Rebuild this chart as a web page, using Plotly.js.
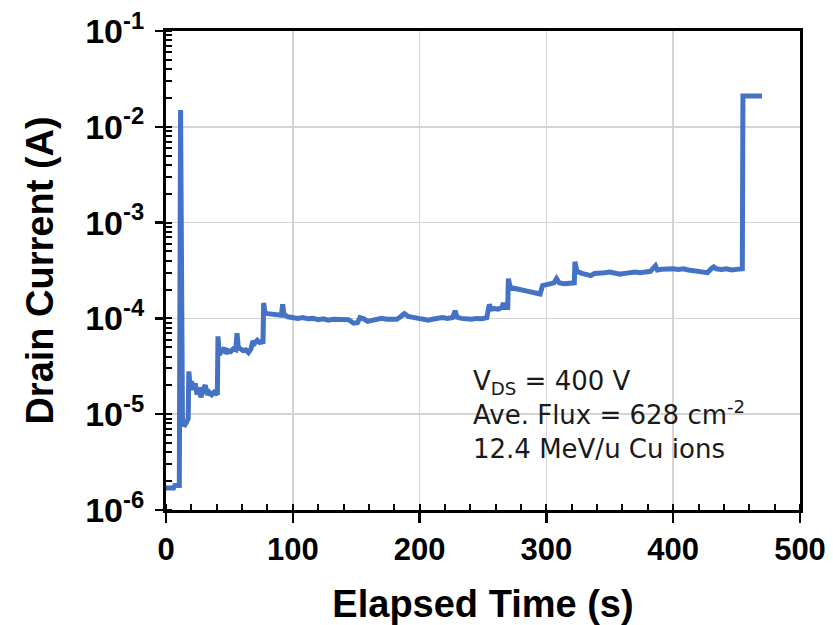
<!DOCTYPE html>
<html>
<head>
<meta charset="utf-8">
<script src="https://cdn.plot.ly/plotly-3.0.1.min.js"></script>
<style>
  html, body { margin: 0; padding: 0; background: #ffffff; }
  #chart { width: 833px; height: 625px; }
</style>
</head>
<body>
<div id="chart"></div>
<script>
// Elapsed time (s)
const timeS = [
  0, 3, 6, 7, 9, 10.5, 11.5, 12.5, 13, 14, 15, 16, 17.5, 18, 19, 20, 21.5, 23, 24.5, 26,
  27.5, 29, 31, 32.5, 34, 36, 38, 40.5, 41, 42, 44, 46, 47.5, 49, 51, 53, 55, 56, 57, 59,
  61, 63, 65, 67, 68.5, 70, 72, 74, 76.5, 77, 78, 80, 83, 86, 89, 91, 92, 93, 96, 100,
  104, 108, 112, 116, 120, 124, 128, 132, 136, 140, 144, 148, 151, 153, 156, 159, 162, 166, 170, 174,
  178, 182, 185, 188, 191, 195, 199, 203, 207, 210, 214, 218, 222, 226, 228, 229.5, 233, 237, 241, 245,
  249, 253, 255, 256.5, 259, 262, 265, 266, 267, 269.5, 270, 271.5, 275, 279, 283, 287, 291, 295, 297, 300,
  303, 306, 308, 310, 314, 318, 322, 322.5, 324, 328, 332, 335, 338, 342, 346, 350, 354, 358, 362, 366,
  370, 374, 378, 382, 386, 387.5, 391, 395, 400, 404, 408, 412, 416, 420, 424, 427, 430, 432, 434, 438,
  442, 446, 450, 454.5, 455, 462, 470
];
// Drain current (A)
const drainCurrentA = [
  1.7e-6, 1.7e-6, 1.7e-6, 1.8e-6, 1.8e-6, 1.8e-6, 1.5e-2, 1.2e-5, 7.5e-6, 8.0e-6, 7.8e-6, 8.2e-6, 9.0e-6, 2.8e-5, 2.0e-5, 2.2e-5, 1.8e-5, 2.1e-5, 1.6e-5, 1.9e-5,
  1.5e-5, 1.8e-5, 2.0e-5, 1.6e-5, 1.7e-5, 1.6e-5, 1.7e-5, 1.6e-5, 6.5e-5, 4.2e-5, 4.5e-5, 4.9e-5, 4.3e-5, 4.6e-5, 4.5e-5, 4.8e-5, 4.7e-5, 7.0e-5, 5.0e-5, 4.8e-5,
  4.6e-5, 4.7e-5, 4.4e-5, 4.8e-5, 5.8e-5, 5.5e-5, 5.9e-5, 5.6e-5, 5.7e-5, 1.45e-4, 1.15e-4, 1.12e-4, 1.10e-4, 1.08e-4, 1.07e-4, 1.08e-4, 1.40e-4, 1.10e-4, 1.04e-4, 1.02e-4,
  1.00e-4, 1.02e-4, 0.99e-4, 1.00e-4, 0.97e-4, 0.99e-4, 0.96e-4, 0.98e-4, 0.97e-4, 0.96e-4, 0.97e-4, 0.89e-4, 0.90e-4, 1.02e-4, 0.99e-4, 0.93e-4, 0.95e-4, 0.99e-4, 1.00e-4, 0.98e-4,
  0.99e-4, 0.98e-4, 1.04e-4, 1.12e-4, 1.05e-4, 1.01e-4, 1.00e-4, 0.98e-4, 0.96e-4, 0.98e-4, 1.00e-4, 1.02e-4, 1.00e-4, 1.02e-4, 1.20e-4, 1.03e-4, 1.00e-4, 0.99e-4, 0.98e-4, 1.00e-4,
  0.99e-4, 1.02e-4, 1.40e-4, 1.25e-4, 1.27e-4, 1.25e-4, 1.30e-4, 1.45e-4, 1.30e-4, 1.30e-4, 2.6e-4, 2.1e-4, 2.08e-4, 2.0e-4, 1.95e-4, 1.9e-4, 1.85e-4, 1.8e-4, 2.2e-4, 2.25e-4,
  2.3e-4, 2.35e-4, 2.6e-4, 2.35e-4, 2.3e-4, 2.35e-4, 2.35e-4, 3.9e-4, 3.1e-4, 2.95e-4, 2.9e-4, 2.8e-4, 2.95e-4, 2.95e-4, 3.0e-4, 3.05e-4, 3.0e-4, 2.9e-4, 2.95e-4, 3.0e-4,
  3.05e-4, 3.0e-4, 3.05e-4, 3.1e-4, 3.55e-4, 3.2e-4, 3.25e-4, 3.3e-4, 3.3e-4, 3.25e-4, 3.3e-4, 3.2e-4, 3.15e-4, 3.1e-4, 3.05e-4, 3.0e-4, 3.3e-4, 3.45e-4, 3.3e-4, 3.25e-4,
  3.3e-4, 3.2e-4, 3.25e-4, 3.3e-4, 2.1e-2, 2.1e-2, 2.1e-2
];
const yTickVals = [1e-6, 1e-5, 1e-4, 1e-3, 1e-2, 1e-1];
const yTickText = ["10<sup>-6</sup>", "10<sup>-5</sup>", "10<sup>-4</sup>", "10<sup>-3</sup>", "10<sup>-2</sup>", "10<sup>-1</sup>"];
const xTickVals = [0, 100, 200, 300, 400, 500];
const noteLines = ["V<sub>DS</sub> = 400 V", "Ave. Flux = 628 cm<sup>-2</sup>", "12.4 MeV/u Cu ions"];

const trace = {
  x: timeS,
  y: drainCurrentA,
  type: 'scatter',
  mode: 'lines',
  line: { color: '#4472C4', width: 5 },
  hoverinfo: 'skip'
};

const fam = 'Liberation Sans, Arial, sans-serif';

const layout = {
  width: 833,
  height: 625,
  margin: { l: 166, r: 33, t: 31, b: 115 },
  paper_bgcolor: '#ffffff',
  plot_bgcolor: '#ffffff',
  showlegend: false,
  xaxis: {
    range: [0, 500],
    tickvals: xTickVals,
    ticks: 'outside',
    ticklen: 10,
    tickwidth: 2.5,
    tickcolor: '#000000',
    showline: true,
    linecolor: '#000000',
    linewidth: 3,
    mirror: true,
    showgrid: true,
    gridcolor: '#d4d4d4',
    gridwidth: 1.5,
    zeroline: false,
    tickfont: { family: fam, size: 31, color: '#000000', weight: 'bold' },
    minor: { dtick: 20, ticks: 'inside', ticklen: 6, tickwidth: 2, tickcolor: '#000000', showgrid: false },
    title: { text: '<b>Elapsed Time (s)</b>', font: { family: fam, size: 38, color: '#000000' }, standoff: 25 },
    automargin: false
  },
  yaxis: {
    type: 'log',
    range: [-6, -1],
    tickvals: yTickVals,
    ticktext: yTickText,
    ticks: 'outside',
    ticklen: 8,
    tickwidth: 2.5,
    tickcolor: '#000000',
    showline: true,
    linecolor: '#000000',
    linewidth: 3,
    mirror: true,
    showgrid: true,
    gridcolor: '#d4d4d4',
    gridwidth: 1.5,
    zeroline: false,
    ticklabelstandoff: 4,
    tickfont: { family: fam, size: 34, color: '#000000', weight: 'bold' },
    minor: { dtick: 'D1', ticks: 'inside', ticklen: 6, tickwidth: 2, tickcolor: '#000000', showgrid: false },
    title: { text: '<b>Drain Current (A)</b>', font: { family: fam, size: 38, color: '#000000' }, standoff: 20 },
    automargin: false
  },
  annotations: [{
    text: noteLines.join('<br>'),
    xref: 'paper', yref: 'paper',
    x: 0.482, y: 0.198,
    xanchor: 'left', yanchor: 'middle',
    showarrow: false,
    align: 'left',
    borderpad: 0,
    font: { family: 'DejaVu Sans, sans-serif', size: 26, color: '#1a1a1a' }
  }]
};

Plotly.newPlot('chart', [trace], layout, { staticPlot: true, displayModeBar: false });
</script>
</body>
</html>
